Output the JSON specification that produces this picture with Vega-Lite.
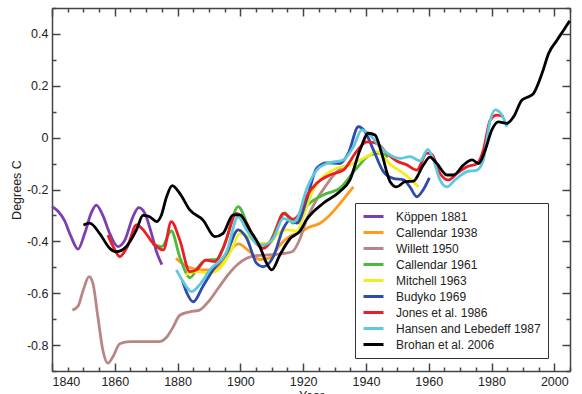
{
  "$schema": "https://vega.github.io/schema/vega-lite/v6.json",
  "width": 518,
  "height": 363,
  "autosize": {"type": "none"},
  "padding": {"left": 52, "top": 8, "right": 12, "bottom": 23},
  "background": "white",
  "config": {
    "view": {"stroke": null},
    "font": "Liberation Sans",
    "axis": {
      "grid": false,
      "domainColor": "#444444",
      "domainWidth": 1.5,
      "tickColor": "#444444",
      "tickWidth": 1.5,
      "labelFont": "Liberation Sans",
      "labelFontSize": 12.5,
      "labelColor": "#222222",
      "titleFont": "Liberation Sans",
      "titleFontSize": 12.5,
      "titleFontWeight": "normal",
      "titleColor": "#222222"
    }
  },
  "data": {
    "values": [
      {"s": "Köppen 1881", "x": 1840, "y": -0.265},
      {"s": "Köppen 1881", "x": 1842, "y": -0.285},
      {"s": "Köppen 1881", "x": 1844, "y": -0.32},
      {"s": "Köppen 1881", "x": 1846, "y": -0.38},
      {"s": "Köppen 1881", "x": 1848.3, "y": -0.43},
      {"s": "Köppen 1881", "x": 1850.4, "y": -0.37},
      {"s": "Köppen 1881", "x": 1852.5, "y": -0.29},
      {"s": "Köppen 1881", "x": 1854.1, "y": -0.26},
      {"s": "Köppen 1881", "x": 1856.2, "y": -0.3},
      {"s": "Köppen 1881", "x": 1858.4, "y": -0.37},
      {"s": "Köppen 1881", "x": 1861, "y": -0.42},
      {"s": "Köppen 1881", "x": 1863.2, "y": -0.395},
      {"s": "Köppen 1881", "x": 1865.8, "y": -0.305},
      {"s": "Köppen 1881", "x": 1867.6, "y": -0.27},
      {"s": "Köppen 1881", "x": 1869.5, "y": -0.29},
      {"s": "Köppen 1881", "x": 1871.7, "y": -0.37},
      {"s": "Köppen 1881", "x": 1873.3, "y": -0.44},
      {"s": "Köppen 1881", "x": 1875, "y": -0.49},

      {"s": "Callendar 1938", "x": 1879.5, "y": -0.465},
      {"s": "Callendar 1938", "x": 1882, "y": -0.49},
      {"s": "Callendar 1938", "x": 1885, "y": -0.505},
      {"s": "Callendar 1938", "x": 1888, "y": -0.51},
      {"s": "Callendar 1938", "x": 1890.3, "y": -0.51},
      {"s": "Callendar 1938", "x": 1893.5, "y": -0.49},
      {"s": "Callendar 1938", "x": 1896.5, "y": -0.44},
      {"s": "Callendar 1938", "x": 1899.3, "y": -0.41},
      {"s": "Callendar 1938", "x": 1903, "y": -0.44},
      {"s": "Callendar 1938", "x": 1906.2, "y": -0.47},
      {"s": "Callendar 1938", "x": 1909.4, "y": -0.464},
      {"s": "Callendar 1938", "x": 1912.6, "y": -0.414},
      {"s": "Callendar 1938", "x": 1915.8, "y": -0.38},
      {"s": "Callendar 1938", "x": 1919, "y": -0.365},
      {"s": "Callendar 1938", "x": 1922, "y": -0.345},
      {"s": "Callendar 1938", "x": 1925.4, "y": -0.33},
      {"s": "Callendar 1938", "x": 1928, "y": -0.305},
      {"s": "Callendar 1938", "x": 1931.7, "y": -0.255},
      {"s": "Callendar 1938", "x": 1934, "y": -0.22},
      {"s": "Callendar 1938", "x": 1936, "y": -0.19},

      {"s": "Willett 1950", "x": 1846.5, "y": -0.665},
      {"s": "Willett 1950", "x": 1848.3, "y": -0.65},
      {"s": "Willett 1950", "x": 1849.9, "y": -0.59},
      {"s": "Willett 1950", "x": 1851.8, "y": -0.536},
      {"s": "Willett 1950", "x": 1853, "y": -0.56},
      {"s": "Willett 1950", "x": 1854.6, "y": -0.69},
      {"s": "Willett 1950", "x": 1856.2, "y": -0.82},
      {"s": "Willett 1950", "x": 1857.8, "y": -0.87},
      {"s": "Willett 1950", "x": 1859.4, "y": -0.845},
      {"s": "Willett 1950", "x": 1861.6, "y": -0.795},
      {"s": "Willett 1950", "x": 1864.8, "y": -0.787},
      {"s": "Willett 1950", "x": 1870, "y": -0.787},
      {"s": "Willett 1950", "x": 1874, "y": -0.787},
      {"s": "Willett 1950", "x": 1876.5, "y": -0.77},
      {"s": "Willett 1950", "x": 1878.6, "y": -0.73},
      {"s": "Willett 1950", "x": 1880.7, "y": -0.685},
      {"s": "Willett 1950", "x": 1883.9, "y": -0.672},
      {"s": "Willett 1950", "x": 1887, "y": -0.665},
      {"s": "Willett 1950", "x": 1890, "y": -0.63},
      {"s": "Willett 1950", "x": 1893, "y": -0.58},
      {"s": "Willett 1950", "x": 1896, "y": -0.53},
      {"s": "Willett 1950", "x": 1899, "y": -0.49},
      {"s": "Willett 1950", "x": 1902, "y": -0.465},
      {"s": "Willett 1950", "x": 1905, "y": -0.455},
      {"s": "Willett 1950", "x": 1909, "y": -0.452},
      {"s": "Willett 1950", "x": 1913, "y": -0.448},
      {"s": "Willett 1950", "x": 1916.5, "y": -0.44},
      {"s": "Willett 1950", "x": 1919, "y": -0.39},
      {"s": "Willett 1950", "x": 1921, "y": -0.32},
      {"s": "Willett 1950", "x": 1924, "y": -0.245},
      {"s": "Willett 1950", "x": 1927, "y": -0.19},
      {"s": "Willett 1950", "x": 1930, "y": -0.14},
      {"s": "Willett 1950", "x": 1933, "y": -0.11},

      {"s": "Callendar 1961", "x": 1872, "y": -0.41},
      {"s": "Callendar 1961", "x": 1875, "y": -0.42},
      {"s": "Callendar 1961", "x": 1878, "y": -0.36},
      {"s": "Callendar 1961", "x": 1880.7, "y": -0.46},
      {"s": "Callendar 1961", "x": 1884, "y": -0.54},
      {"s": "Callendar 1961", "x": 1886.5, "y": -0.5},
      {"s": "Callendar 1961", "x": 1889, "y": -0.472},
      {"s": "Callendar 1961", "x": 1892.4, "y": -0.47},
      {"s": "Callendar 1961", "x": 1895.6, "y": -0.39},
      {"s": "Callendar 1961", "x": 1899.3, "y": -0.266},
      {"s": "Callendar 1961", "x": 1902.5, "y": -0.343},
      {"s": "Callendar 1961", "x": 1905.7, "y": -0.414},
      {"s": "Callendar 1961", "x": 1908.4, "y": -0.414},
      {"s": "Callendar 1961", "x": 1912.6, "y": -0.318},
      {"s": "Callendar 1961", "x": 1914.2, "y": -0.29},
      {"s": "Callendar 1961", "x": 1916.8, "y": -0.33},
      {"s": "Callendar 1961", "x": 1919, "y": -0.3},
      {"s": "Callendar 1961", "x": 1921, "y": -0.266},
      {"s": "Callendar 1961", "x": 1926.4, "y": -0.221},
      {"s": "Callendar 1961", "x": 1931.7, "y": -0.195},
      {"s": "Callendar 1961", "x": 1937, "y": -0.118},
      {"s": "Callendar 1961", "x": 1941.3, "y": -0.067},
      {"s": "Callendar 1961", "x": 1944.5, "y": -0.06},
      {"s": "Callendar 1961", "x": 1947, "y": -0.075},

      {"s": "Mitchell 1963", "x": 1882.5, "y": -0.53},
      {"s": "Mitchell 1963", "x": 1886, "y": -0.517},
      {"s": "Mitchell 1963", "x": 1890.3, "y": -0.522},
      {"s": "Mitchell 1963", "x": 1893.5, "y": -0.503},
      {"s": "Mitchell 1963", "x": 1897.2, "y": -0.433},
      {"s": "Mitchell 1963", "x": 1899.8, "y": -0.37},
      {"s": "Mitchell 1963", "x": 1903, "y": -0.387},
      {"s": "Mitchell 1963", "x": 1906.2, "y": -0.407},
      {"s": "Mitchell 1963", "x": 1909.4, "y": -0.407},
      {"s": "Mitchell 1963", "x": 1911.5, "y": -0.375},
      {"s": "Mitchell 1963", "x": 1914.7, "y": -0.356},
      {"s": "Mitchell 1963", "x": 1918, "y": -0.36},
      {"s": "Mitchell 1963", "x": 1920, "y": -0.305},
      {"s": "Mitchell 1963", "x": 1923.2, "y": -0.202},
      {"s": "Mitchell 1963", "x": 1926.4, "y": -0.15},
      {"s": "Mitchell 1963", "x": 1930.7, "y": -0.118},
      {"s": "Mitchell 1963", "x": 1935, "y": -0.105},
      {"s": "Mitchell 1963", "x": 1940.3, "y": -0.073},
      {"s": "Mitchell 1963", "x": 1943.5, "y": -0.054},
      {"s": "Mitchell 1963", "x": 1947.9, "y": -0.105},
      {"s": "Mitchell 1963", "x": 1952, "y": -0.138},
      {"s": "Mitchell 1963", "x": 1956.7, "y": -0.19},

      {"s": "Budyko 1969", "x": 1881.5, "y": -0.55},
      {"s": "Budyko 1969", "x": 1883, "y": -0.6},
      {"s": "Budyko 1969", "x": 1885, "y": -0.633},
      {"s": "Budyko 1969", "x": 1888, "y": -0.575},
      {"s": "Budyko 1969", "x": 1891.3, "y": -0.51},
      {"s": "Budyko 1969", "x": 1895.6, "y": -0.446},
      {"s": "Budyko 1969", "x": 1899.3, "y": -0.356},
      {"s": "Budyko 1969", "x": 1902, "y": -0.388},
      {"s": "Budyko 1969", "x": 1905.2, "y": -0.485},
      {"s": "Budyko 1969", "x": 1907.3, "y": -0.498},
      {"s": "Budyko 1969", "x": 1910.5, "y": -0.459},
      {"s": "Budyko 1969", "x": 1913.7, "y": -0.35},
      {"s": "Budyko 1969", "x": 1915.8, "y": -0.318},
      {"s": "Budyko 1969", "x": 1918, "y": -0.33},
      {"s": "Budyko 1969", "x": 1921.1, "y": -0.24},
      {"s": "Budyko 1969", "x": 1924.3, "y": -0.118},
      {"s": "Budyko 1969", "x": 1927.5, "y": -0.097},
      {"s": "Budyko 1969", "x": 1931.7, "y": -0.1},
      {"s": "Budyko 1969", "x": 1934.4, "y": -0.06},
      {"s": "Budyko 1969", "x": 1937.6, "y": 0.042},
      {"s": "Budyko 1969", "x": 1939.7, "y": 0.023},
      {"s": "Budyko 1969", "x": 1942.4, "y": -0.048},
      {"s": "Budyko 1969", "x": 1945.5, "y": -0.13},
      {"s": "Budyko 1969", "x": 1948.7, "y": -0.157},
      {"s": "Budyko 1969", "x": 1952, "y": -0.163},
      {"s": "Budyko 1969", "x": 1954, "y": -0.19},
      {"s": "Budyko 1969", "x": 1956.2, "y": -0.228},
      {"s": "Budyko 1969", "x": 1958.3, "y": -0.2},
      {"s": "Budyko 1969", "x": 1960.2, "y": -0.155},

      {"s": "Jones et al. 1986", "x": 1857.8, "y": -0.376},
      {"s": "Jones et al. 1986", "x": 1859.5, "y": -0.42},
      {"s": "Jones et al. 1986", "x": 1861.6, "y": -0.459},
      {"s": "Jones et al. 1986", "x": 1864, "y": -0.42},
      {"s": "Jones et al. 1986", "x": 1866.9, "y": -0.337},
      {"s": "Jones et al. 1986", "x": 1869, "y": -0.355},
      {"s": "Jones et al. 1986", "x": 1872.2, "y": -0.407},
      {"s": "Jones et al. 1986", "x": 1875.5, "y": -0.433},
      {"s": "Jones et al. 1986", "x": 1878, "y": -0.324},
      {"s": "Jones et al. 1986", "x": 1880.7, "y": -0.395},
      {"s": "Jones et al. 1986", "x": 1883.9, "y": -0.517},
      {"s": "Jones et al. 1986", "x": 1886, "y": -0.51},
      {"s": "Jones et al. 1986", "x": 1889, "y": -0.472},
      {"s": "Jones et al. 1986", "x": 1891.9, "y": -0.478},
      {"s": "Jones et al. 1986", "x": 1894.5, "y": -0.427},
      {"s": "Jones et al. 1986", "x": 1898.8, "y": -0.292},
      {"s": "Jones et al. 1986", "x": 1902, "y": -0.33},
      {"s": "Jones et al. 1986", "x": 1905.2, "y": -0.408},
      {"s": "Jones et al. 1986", "x": 1907.3, "y": -0.427},
      {"s": "Jones et al. 1986", "x": 1910.5, "y": -0.382},
      {"s": "Jones et al. 1986", "x": 1913.7, "y": -0.292},
      {"s": "Jones et al. 1986", "x": 1916.8, "y": -0.315},
      {"s": "Jones et al. 1986", "x": 1918.5, "y": -0.3},
      {"s": "Jones et al. 1986", "x": 1921, "y": -0.228},
      {"s": "Jones et al. 1986", "x": 1924.3, "y": -0.176},
      {"s": "Jones et al. 1986", "x": 1928.5, "y": -0.144},
      {"s": "Jones et al. 1986", "x": 1932.8, "y": -0.125},
      {"s": "Jones et al. 1986", "x": 1937, "y": -0.054},
      {"s": "Jones et al. 1986", "x": 1940.3, "y": -0.016},
      {"s": "Jones et al. 1986", "x": 1943.5, "y": -0.022},
      {"s": "Jones et al. 1986", "x": 1946.6, "y": -0.06},
      {"s": "Jones et al. 1986", "x": 1949.8, "y": -0.09},
      {"s": "Jones et al. 1986", "x": 1953, "y": -0.105},
      {"s": "Jones et al. 1986", "x": 1956.2, "y": -0.125},
      {"s": "Jones et al. 1986", "x": 1959.4, "y": -0.06},
      {"s": "Jones et al. 1986", "x": 1961, "y": -0.065},
      {"s": "Jones et al. 1986", "x": 1963.6, "y": -0.138},
      {"s": "Jones et al. 1986", "x": 1966.3, "y": -0.163},
      {"s": "Jones et al. 1986", "x": 1969, "y": -0.138},
      {"s": "Jones et al. 1986", "x": 1972.2, "y": -0.112},
      {"s": "Jones et al. 1986", "x": 1975.4, "y": -0.1},
      {"s": "Jones et al. 1986", "x": 1977.4, "y": -0.048},
      {"s": "Jones et al. 1986", "x": 1979.6, "y": 0.068},
      {"s": "Jones et al. 1986", "x": 1981.7, "y": 0.087},
      {"s": "Jones et al. 1986", "x": 1983.8, "y": 0.081},

      {"s": "Hansen and Lebedeff 1987", "x": 1879.6, "y": -0.51},
      {"s": "Hansen and Lebedeff 1987", "x": 1882, "y": -0.56},
      {"s": "Hansen and Lebedeff 1987", "x": 1884.4, "y": -0.594},
      {"s": "Hansen and Lebedeff 1987", "x": 1887, "y": -0.568},
      {"s": "Hansen and Lebedeff 1987", "x": 1890.3, "y": -0.51},
      {"s": "Hansen and Lebedeff 1987", "x": 1895.6, "y": -0.44},
      {"s": "Hansen and Lebedeff 1987", "x": 1899.3, "y": -0.305},
      {"s": "Hansen and Lebedeff 1987", "x": 1902, "y": -0.356},
      {"s": "Hansen and Lebedeff 1987", "x": 1905.2, "y": -0.408},
      {"s": "Hansen and Lebedeff 1987", "x": 1907.3, "y": -0.414},
      {"s": "Hansen and Lebedeff 1987", "x": 1910.5, "y": -0.388},
      {"s": "Hansen and Lebedeff 1987", "x": 1913.7, "y": -0.311},
      {"s": "Hansen and Lebedeff 1987", "x": 1916.8, "y": -0.325},
      {"s": "Hansen and Lebedeff 1987", "x": 1918, "y": -0.315},
      {"s": "Hansen and Lebedeff 1987", "x": 1921, "y": -0.202},
      {"s": "Hansen and Lebedeff 1987", "x": 1924.3, "y": -0.125},
      {"s": "Hansen and Lebedeff 1987", "x": 1927.5, "y": -0.1},
      {"s": "Hansen and Lebedeff 1987", "x": 1932.8, "y": -0.086},
      {"s": "Hansen and Lebedeff 1987", "x": 1936, "y": -0.035},
      {"s": "Hansen and Lebedeff 1987", "x": 1938.7, "y": 0.03},
      {"s": "Hansen and Lebedeff 1987", "x": 1941.3, "y": 0.01},
      {"s": "Hansen and Lebedeff 1987", "x": 1944.5, "y": -0.035},
      {"s": "Hansen and Lebedeff 1987", "x": 1947.7, "y": -0.067},
      {"s": "Hansen and Lebedeff 1987", "x": 1950.9, "y": -0.08},
      {"s": "Hansen and Lebedeff 1987", "x": 1954, "y": -0.073},
      {"s": "Hansen and Lebedeff 1987", "x": 1957.3, "y": -0.09},
      {"s": "Hansen and Lebedeff 1987", "x": 1959.7, "y": -0.045},
      {"s": "Hansen and Lebedeff 1987", "x": 1961.5, "y": -0.086},
      {"s": "Hansen and Lebedeff 1987", "x": 1963.6, "y": -0.163},
      {"s": "Hansen and Lebedeff 1987", "x": 1965.8, "y": -0.19},
      {"s": "Hansen and Lebedeff 1987", "x": 1968.4, "y": -0.163},
      {"s": "Hansen and Lebedeff 1987", "x": 1972.2, "y": -0.131},
      {"s": "Hansen and Lebedeff 1987", "x": 1975.4, "y": -0.125},
      {"s": "Hansen and Lebedeff 1987", "x": 1977.4, "y": -0.086},
      {"s": "Hansen and Lebedeff 1987", "x": 1979.6, "y": 0.068},
      {"s": "Hansen and Lebedeff 1987", "x": 1981.2, "y": 0.107},
      {"s": "Hansen and Lebedeff 1987", "x": 1983.3, "y": 0.087},
      {"s": "Hansen and Lebedeff 1987", "x": 1984.9, "y": 0.042},

      {"s": "Brohan et al. 2006", "x": 1850, "y": -0.337},
      {"s": "Brohan et al. 2006", "x": 1852, "y": -0.33},
      {"s": "Brohan et al. 2006", "x": 1855.2, "y": -0.37},
      {"s": "Brohan et al. 2006", "x": 1858.4, "y": -0.427},
      {"s": "Brohan et al. 2006", "x": 1860.5, "y": -0.44},
      {"s": "Brohan et al. 2006", "x": 1863.7, "y": -0.42},
      {"s": "Brohan et al. 2006", "x": 1866.9, "y": -0.356},
      {"s": "Brohan et al. 2006", "x": 1869, "y": -0.3},
      {"s": "Brohan et al. 2006", "x": 1871.1, "y": -0.305},
      {"s": "Brohan et al. 2006", "x": 1873.3, "y": -0.324},
      {"s": "Brohan et al. 2006", "x": 1874.8, "y": -0.3},
      {"s": "Brohan et al. 2006", "x": 1876.5, "y": -0.228},
      {"s": "Brohan et al. 2006", "x": 1878.3, "y": -0.185},
      {"s": "Brohan et al. 2006", "x": 1880.7, "y": -0.215},
      {"s": "Brohan et al. 2006", "x": 1883.9, "y": -0.279},
      {"s": "Brohan et al. 2006", "x": 1888.1, "y": -0.318},
      {"s": "Brohan et al. 2006", "x": 1891.9, "y": -0.382},
      {"s": "Brohan et al. 2006", "x": 1894.5, "y": -0.369},
      {"s": "Brohan et al. 2006", "x": 1897.7, "y": -0.298},
      {"s": "Brohan et al. 2006", "x": 1899.8, "y": -0.298},
      {"s": "Brohan et al. 2006", "x": 1903, "y": -0.356},
      {"s": "Brohan et al. 2006", "x": 1906.2, "y": -0.42},
      {"s": "Brohan et al. 2006", "x": 1908.4, "y": -0.485},
      {"s": "Brohan et al. 2006", "x": 1910, "y": -0.51},
      {"s": "Brohan et al. 2006", "x": 1912.6, "y": -0.452},
      {"s": "Brohan et al. 2006", "x": 1915.8, "y": -0.39},
      {"s": "Brohan et al. 2006", "x": 1919, "y": -0.36},
      {"s": "Brohan et al. 2006", "x": 1921, "y": -0.318},
      {"s": "Brohan et al. 2006", "x": 1926.4, "y": -0.253},
      {"s": "Brohan et al. 2006", "x": 1931.7, "y": -0.208},
      {"s": "Brohan et al. 2006", "x": 1934.9, "y": -0.163},
      {"s": "Brohan et al. 2006", "x": 1938.1, "y": -0.048},
      {"s": "Brohan et al. 2006", "x": 1940.8, "y": 0.017},
      {"s": "Brohan et al. 2006", "x": 1942.9, "y": 0.01},
      {"s": "Brohan et al. 2006", "x": 1945, "y": -0.06},
      {"s": "Brohan et al. 2006", "x": 1947.7, "y": -0.17},
      {"s": "Brohan et al. 2006", "x": 1949.8, "y": -0.19},
      {"s": "Brohan et al. 2006", "x": 1952.5, "y": -0.17},
      {"s": "Brohan et al. 2006", "x": 1955.1, "y": -0.168},
      {"s": "Brohan et al. 2006", "x": 1958.3, "y": -0.105},
      {"s": "Brohan et al. 2006", "x": 1960.4, "y": -0.075},
      {"s": "Brohan et al. 2006", "x": 1962.6, "y": -0.1},
      {"s": "Brohan et al. 2006", "x": 1965.8, "y": -0.144},
      {"s": "Brohan et al. 2006", "x": 1967.9, "y": -0.144},
      {"s": "Brohan et al. 2006", "x": 1971.1, "y": -0.105},
      {"s": "Brohan et al. 2006", "x": 1973.8, "y": -0.086},
      {"s": "Brohan et al. 2006", "x": 1975.9, "y": -0.1},
      {"s": "Brohan et al. 2006", "x": 1978, "y": -0.048},
      {"s": "Brohan et al. 2006", "x": 1980.1, "y": 0.03},
      {"s": "Brohan et al. 2006", "x": 1982.2, "y": 0.061},
      {"s": "Brohan et al. 2006", "x": 1984.9, "y": 0.055},
      {"s": "Brohan et al. 2006", "x": 1987, "y": 0.08},
      {"s": "Brohan et al. 2006", "x": 1989.7, "y": 0.145},
      {"s": "Brohan et al. 2006", "x": 1991.8, "y": 0.158},
      {"s": "Brohan et al. 2006", "x": 1993.4, "y": 0.171},
      {"s": "Brohan et al. 2006", "x": 1996.1, "y": 0.248},
      {"s": "Brohan et al. 2006", "x": 1998.2, "y": 0.325},
      {"s": "Brohan et al. 2006", "x": 2000.9, "y": 0.377},
      {"s": "Brohan et al. 2006", "x": 2003, "y": 0.415},
      {"s": "Brohan et al. 2006", "x": 2004.9, "y": 0.451}
    ]
  },
  "layer": [
    {
      "mark": {"type": "line", "opacity": 0},
      "encoding": {
        "x": {"field": "x", "type": "quantitative", "scale": {"domain": [1840, 2005], "nice": false, "zero": false},
          "axis": {"orient": "bottom", "values": [1845,1850,1855,1865,1870,1875,1885,1890,1895,1905,1910,1915,1925,1930,1935,1945,1950,1955,1965,1970,1975,1985,1990,1995,2005], "tickSize": -4, "labels": false, "domain": false, "title": null}},
        "y": {"field": "y", "type": "quantitative", "scale": {"domain": [-0.9, 0.5], "nice": false, "zero": false},
          "axis": {"orient": "left", "values": [-0.9,-0.7,-0.5,-0.3,-0.1,0.1,0.3,0.5], "tickSize": -4, "labels": false, "domain": false, "title": null}},
        "detail": {"field": "s"}
      }
    },
    {
      "mark": {"type": "line", "opacity": 0},
      "encoding": {
        "x": {"field": "x", "type": "quantitative", "scale": {"domain": [1840, 2005], "nice": false, "zero": false},
          "axis": {"orient": "top", "values": [1840,1860,1880,1900,1920,1940,1960,1980,2000], "tickSize": -8, "labels": false, "domain": true, "title": null}},
        "y": {"field": "y", "type": "quantitative", "scale": {"domain": [-0.9, 0.5], "nice": false, "zero": false},
          "axis": {"orient": "right", "values": [-0.8,-0.6,-0.4,-0.2,0,0.2,0.4], "tickSize": -8, "labels": false, "domain": true, "title": null}},
        "detail": {"field": "s"}
      }
    },
    {
      "mark": {"type": "line", "opacity": 0},
      "encoding": {
        "x": {"field": "x", "type": "quantitative", "scale": {"domain": [1840, 2005], "nice": false, "zero": false},
          "axis": {"orient": "top", "values": [1845,1850,1855,1865,1870,1875,1885,1890,1895,1905,1910,1915,1925,1930,1935,1945,1950,1955,1965,1970,1975,1985,1990,1995,2005], "tickSize": -4, "labels": false, "domain": false, "title": null}},
        "y": {"field": "y", "type": "quantitative", "scale": {"domain": [-0.9, 0.5], "nice": false, "zero": false},
          "axis": {"orient": "right", "values": [-0.9,-0.7,-0.5,-0.3,-0.1,0.1,0.3,0.5], "tickSize": -4, "labels": false, "domain": false, "title": null}},
        "detail": {"field": "s"}
      }
    },
    {
      "mark": {"type": "line", "interpolate": "monotone", "strokeWidth": 2.8},
      "encoding": {
        "x": {"field": "x", "type": "quantitative", "scale": {"domain": [1840, 2005], "nice": false, "zero": false},
          "axis": {"orient": "bottom", "values": [1840,1860,1880,1900,1920,1940,1960,1980,2000], "tickSize": -8, "labelPadding": 12, "title": "Year", "titlePadding": 2, "format": "d"}},
        "y": {"field": "y", "type": "quantitative", "scale": {"domain": [-0.9, 0.5], "nice": false, "zero": false},
          "axis": {"orient": "left", "values": [-0.8,-0.6,-0.4,-0.2,0,0.2,0.4], "tickSize": -8, "labelPadding": 12, "title": "Degrees C", "titlePadding": 3, "format": "~g", "labelExpr": "replace(datum.label, '\u2212', '-')"}},
        "color": {
          "field": "s", "type": "nominal",
          "scale": {
            "domain": ["Köppen 1881", "Callendar 1938", "Willett 1950", "Callendar 1961", "Mitchell 1963", "Budyko 1969", "Jones et al. 1986", "Hansen and Lebedeff 1987", "Brohan et al. 2006"],
            "range": ["#7b3fb0", "#ff9a1a", "#b98585", "#4cbb3a", "#f2ee1c", "#2d4bad", "#ee1c24", "#5ec8de", "#000000"]
          },
          "legend": {
            "orient": "none", "legendX": 303, "legendY": 195, "title": null,
            "strokeColor": "#333333", "fillColor": "white", "padding": 7,
            "symbolType": "M-2,0H2", "symbolStrokeWidth": 3, "symbolSize": 100, "symbolOffset": 5,
            "labelFont": "Liberation Sans", "labelFontSize": 12, "labelColor": "#222222",
            "labelOffset": 16, "rowPadding": 3, "labelLimit": 300
          }
        }
      }
    }
  ],
  "resolve": {"axis": {"x": "independent", "y": "independent"}}
}
